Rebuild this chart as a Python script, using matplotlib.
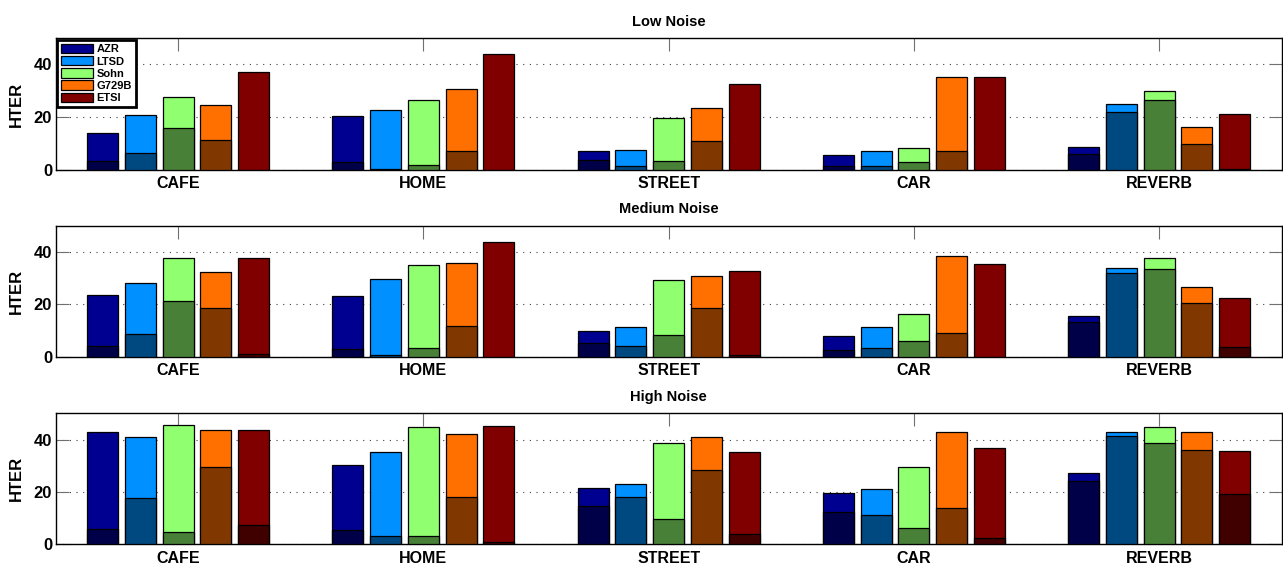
import matplotlib
matplotlib.use('Agg')
import matplotlib.pyplot as plt
from matplotlib.patches import Patch
import numpy as np

plt.rcParams['font.family'] = ['Liberation Sans', 'DejaVu Sans']
plt.rcParams['font.weight'] = 'bold'

categories = ['CAFE', 'HOME', 'STREET', 'CAR', 'REVERB']
methods = ['AZR', 'LTSD', 'Sohn', 'G729B', 'ETSI']
panel_titles = ['Low Noise', 'Medium Noise', 'High Noise']

# rows = categories, columns = methods
low_total = [[14.2, 20.8, 27.7, 24.8, 37.3],
             [20.5, 22.9, 26.7, 30.8, 44.1],
             [7.3, 7.6, 19.7, 23.5, 32.7],
             [5.8, 7.3, 8.5, 35.3, 35.4],
             [8.7, 25.2, 29.9, 16.3, 21.1]]
low_lower = [[3.5, 6.6, 15.8, 11.5, 0.0],
             [3.2, 0.5, 2.0, 7.3, 0.0],
             [3.9, 1.4, 3.5, 11.1, 0.0],
             [1.6, 1.6, 3.2, 7.2, 0.0],
             [5.9, 22.0, 26.5, 10.0, 0.5]]

med_total = [[23.6, 28.1, 37.5, 32.4, 37.8],
             [23.0, 29.5, 35.0, 35.8, 43.9],
             [9.9, 11.2, 29.1, 30.6, 32.6],
             [8.0, 11.3, 16.1, 38.3, 35.3],
             [15.7, 34.0, 37.6, 26.5, 22.3]]
med_lower = [[3.9, 8.8, 21.1, 18.5, 0.9],
             [3.0, 0.5, 3.4, 11.9, 0.0],
             [5.3, 3.9, 8.1, 18.4, 0.5],
             [2.4, 3.2, 5.8, 9.1, 0.0],
             [13.2, 32.0, 33.5, 20.3, 3.6]]

high_total = [[42.8, 41.0, 45.5, 43.8, 43.8],
              [30.2, 35.4, 44.7, 42.2, 45.1],
              [21.5, 22.9, 38.7, 40.8, 35.3],
              [19.4, 21.0, 29.6, 42.7, 36.8],
              [27.4, 43.0, 44.8, 42.7, 35.8]]
high_lower = [[5.7, 17.5, 4.7, 29.6, 7.5],
              [5.5, 3.3, 3.0, 17.9, 1.0],
              [14.6, 17.9, 9.5, 28.2, 3.9],
              [12.2, 11.3, 6.1, 13.8, 2.3],
              [24.3, 41.5, 38.7, 35.9, 19.2]]

colors_top = ['#000090', '#0090ff', '#90ff70', '#ff7000', '#800000']
colors_low = ['#000048', '#004880', '#488038', '#803800', '#400000']

panels = [(low_total, low_lower), (med_total, med_lower), (high_total, high_lower)]

fig = plt.figure(figsize=(12.83, 5.65), dpi=100)
# axes rects (left, bottom, width, height) in figure fractions
rects = [[0.0433, 0.699, 0.9557, 0.2336],
         [0.0433, 0.3687, 0.9557, 0.2319],
         [0.0433, 0.0366, 0.9557, 0.2319]]

x = np.arange(1, len(categories) + 1)
step = 0.154
width = 0.126

for k, (tot, low) in enumerate(panels):
    ax = fig.add_axes(rects[k])
    tot = np.array(tot)
    low = np.array(low)
    for j in range(len(methods)):
        xs = x + (j - 2) * step
        ax.bar(xs, tot[:, j], width, color=colors_top[j], edgecolor='k',
               linewidth=0.9, zorder=3)
        ax.bar(xs, low[:, j], width, color=colors_low[j], edgecolor='k',
               linewidth=0.9, zorder=4)
    ax.set_xlim(0.5, 5.5)
    ax.set_ylim(0, 50)
    ax.set_yticks([0, 20, 40])
    ax.set_xticks(x)
    ax.set_xticklabels(categories, fontsize=11.5, fontweight='bold')
    ax.tick_params(axis='y', labelsize=12, direction='in', length=9.4,
                   right=True, color='#707070', pad=2.5)
    ax.tick_params(axis='x', direction='in', length=9.4, top=True,
                   color='#707070', pad=4.5)
    ax.yaxis.grid(True, linestyle=(0, (1, 5)), color='#404040', linewidth=0.8)
    ax.set_axisbelow(True)
    ax.set_ylabel('HTER', fontsize=12, fontweight='bold', labelpad=7)
    ax.set_title(panel_titles[k], fontsize=10.5, fontweight='bold', pad=9)
    for s in ax.spines.values():
        s.set_linewidth(1.0)
    if k == 0:
        handles = [Patch(facecolor=colors_top[j], edgecolor='k', linewidth=0.9)
                   for j in range(len(methods))]
        leg = ax.legend(handles, methods, loc='upper left',
                        bbox_to_anchor=(0.0, 1.0), borderaxespad=0.15,
                        fancybox=False, framealpha=1, edgecolor='k',
                        prop={'size': 8, 'weight': 'bold'},
                        handlelength=2.9, handleheight=0.95,
                        handletextpad=0.3, labelspacing=0.15,
                        borderpad=0.35)
        leg.get_frame().set_linewidth(2.0)
        leg.set_zorder(10)

fig.savefig('out.png', dpi=100)
